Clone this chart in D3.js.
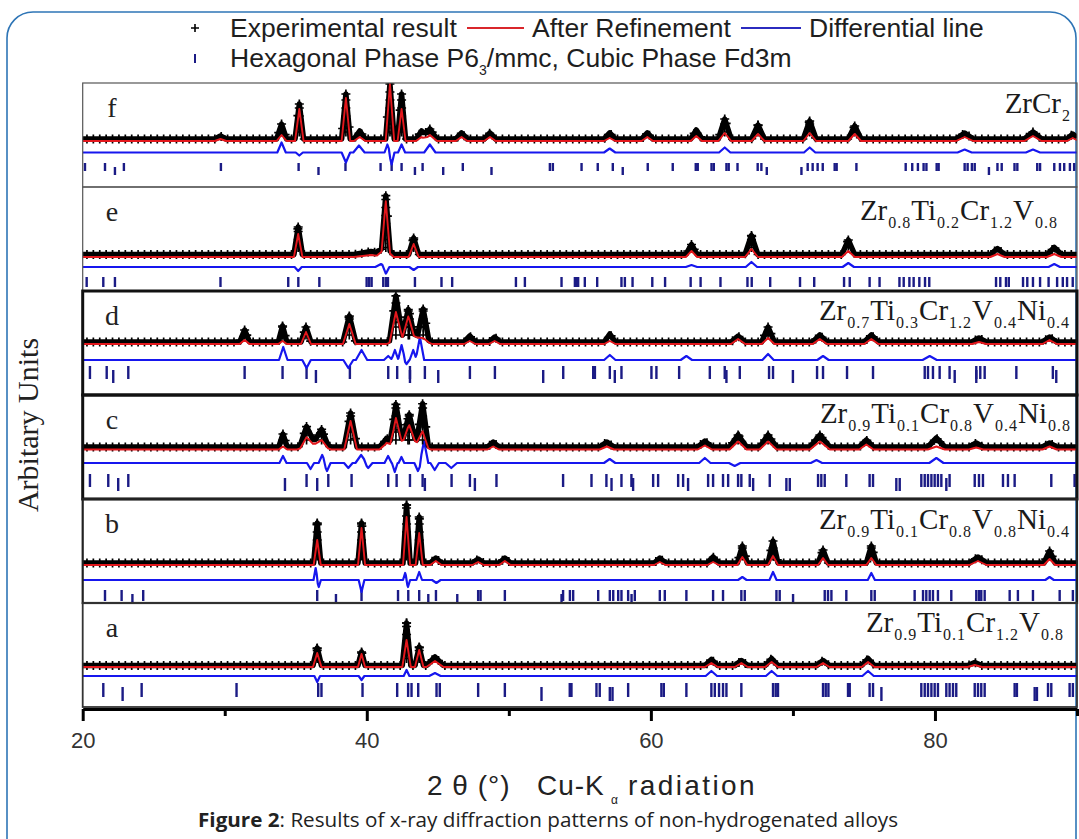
<!DOCTYPE html>
<html><head><meta charset="utf-8">
<script src="https://cdn.jsdelivr.net/npm/d3@7"></script>
<style>body{margin:0;background:#fff}svg{display:block}</style>
</head><body><svg id="c" width="1079" height="839"></svg>
<script>
// ---------------- DATA ----------------
const panelIds = ["f","e","d","c","b","a"];
const xTicks = [20,30,40,50,60,70,80,90];
const xTickLabels = [20,40,60,80];

const formulaF = [["ZrCr","2"]];
const formulaE = [["Zr","0.8"],["Ti","0.2"],["Cr","1.2"],["V","0.8"]];
const formulaD = [["Zr","0.7"],["Ti","0.3"],["Cr","1.2"],["V","0.4"],["Ni","0.4"]];
const formulaC = [["Zr","0.9"],["Ti","0.1"],["Cr","0.8"],["V","0.4"],["Ni","0.8"]];
const formulaB = [["Zr","0.9"],["Ti","0.1"],["Cr","0.8"],["V","0.8"],["Ni","0.4"]];
const formulaA = [["Zr","0.9"],["Ti","0.1"],["Cr","1.2"],["V","0.8"]];

// background level of observed pattern (arb. units)
const backgroundObs = [48, 36.5, 53, 52, 40, 41.5];

// peaks: [2theta, observed height, calculated height, half width]
const peaksF = [[29.7,3,2,0.4],[34.0,15,6,0.35],[35.25,35,32,0.3],[38.53,45,43,0.3],[39.5,8,4,0.4],[41.63,55,57,0.3],[42.45,45,32,0.28],[43.86,8,4,0.4],[44.44,10,6,0.5],[46.67,6,4,0.4],[48.67,6,4,0.4],[57.1,6,3,0.4],[59.75,6,4,0.4],[63.2,9,5,0.4],[65.2,20,8,0.45],[67.54,14,7,0.45],[71.18,18,8,0.45],[74.35,13,7,0.45],[82.09,6,4,0.6],[86.9,7,5,0.6],[89.7,5,3,0.4]];
const peaksE = [[35.17,27.5,23,0.3],[40.3,3,2,1.2],[41.3,8,8,0.6],[41.34,51,48,0.3],[43.3,16.5,13,0.35],[62.86,10,6,0.4],[67.08,19,8,0.45],[73.9,14.5,6,0.45],[84.4,6,3,0.5],[88.4,7,3,0.5]];
const peaksD = [[31.4,12,4,0.35],[34.07,16,3,0.3],[35.72,15,12,0.35],[38.77,26,20,0.45],[43.0,10,10,1.6],[42.05,42,28,0.45],[42.92,23,18,0.4],[43.97,29,2,0.4],[47.25,6,3,0.4],[49.0,5,3,0.4],[57.11,8,3,0.4],[66.14,6,5,0.5],[68.25,15,6,0.45],[71.89,7,5,0.5],[75.52,7,5,0.5],[83.1,4,2,0.5],[88.07,5,4,0.5]];
const peaksC = [[34.1,13,3,0.3],[36.3,8,6,1.2],[35.76,16,9,0.45],[36.82,13,6,0.45],[38.86,34,28.5,0.45],[41.39,8,6,0.5],[42.9,12,12,1.6],[42.05,37,26,0.4],[42.99,21,13,0.4],[43.93,39,14,0.4],[48.9,5,3,0.4],[56.9,5,3,0.5],[63.8,6,4,0.5],[66.14,12,8,0.6],[68.25,12,8,0.6],[71.9,12,8,0.7],[75.17,7,5,0.5],[80.1,9,3,0.6],[82.9,4,2,0.5],[88.07,4,3,0.5]];
const peaksB = [[36.51,40,25,0.25],[39.63,40,37,0.25],[42.8,58,48,0.25],[43.69,46,32,0.25],[44.86,5,4,0.4],[47.84,4,3,0.4],[49.72,5,4,0.4],[60.63,5,3,0.4],[64.38,6,3,0.4],[66.44,17,8,0.35],[68.6,22,9,0.35],[72.12,13,7,0.35],[75.52,17,7,0.35],[83.03,6,4,0.6],[88.07,12,6,0.4]];
const peaksA = [[36.51,17.5,14,0.3],[39.63,13.5,13,0.25],[42.8,42.5,27,0.3],[43.69,18.5,17,0.3],[44.8,8.5,6,0.6],[64.26,6,4,0.45],[66.37,5,4,0.45],[68.5,7,5,0.45],[72.12,5,4,0.45],[75.29,7,5,0.45],[82.8,3,2,0.5]];

// difference curve features: [2theta, amplitude, half width]
const diffF = [[34.0,10,0.3],[35.25,-3,0.25],[38.53,-10,0.3],[39.45,7,0.4],[41.45,8,0.2],[41.75,-12,0.2],[42.45,8,0.25],[44.44,8,0.4],[57.1,4,0.4],[65.2,5,0.4],[71.18,5,0.4],[82.09,3,0.5],[86.9,3,0.5]];
const diffE = [[35.17,-4,0.25],[41.0,3,0.4],[41.34,-7,0.25],[43.3,-3,0.3],[62.86,2,0.4],[67.08,5,0.4],[73.9,4,0.4],[88.4,3,0.4]];
const diffD = [[34.12,13,0.3],[35.76,-8,0.3],[38.7,-8,0.35],[39.63,10,0.4],[41.51,4,0.3],[41.98,10,0.25],[42.45,15,0.25],[42.8,-4,0.2],[43.27,10,0.25],[43.74,23,0.3],[57.11,5,0.4],[62.5,4,0.4],[68.25,6,0.4],[72.12,4,0.4],[79.63,4,0.5]];
const diffC = [[34.1,7,0.25],[36.04,-6,0.25],[36.86,8,0.25],[37.2,-8,0.25],[38.7,-5,0.3],[39.6,8,0.4],[40.1,-5,0.3],[41.5,7,0.25],[41.97,-9,0.2],[42.44,6,0.2],[43.6,-8,0.25],[44.03,22,0.3],[44.78,-7,0.3],[45.95,-5,0.4],[57.1,4,0.4],[63.8,5,0.4],[65.9,-3,0.4],[71.66,3,0.4],[80.1,5,0.5]];
const diffB = [[36.4,12,0.15],[36.62,-7,0.15],[39.63,-12,0.2],[42.7,7,0.15],[42.9,-7,0.15],[43.69,8,0.2],[44.9,-3,0.3],[66.44,3,0.3],[68.6,8,0.25],[75.52,7,0.25],[88.07,3,0.3]];
const diffA = [[36.51,-6,0.2],[39.63,-4,0.2],[42.8,6,0.2],[44.8,3,0.4],[64.26,5,0.4],[68.5,5,0.4],[75.29,5,0.4]];

// Bragg reflection positions (2theta)
const ticksF = [20.16,21.57,22.9,29.73,35.2,38.5,40.97,41.75,42.45,43.93,46.76,52.89,53.1,55.12,56.26,57.32,59.78,61.54,63.16,63.3,64.27,64.43,65.32,65.48,66.1,67.52,67.78,71.04,71.39,71.74,72.1,72.94,73.08,74.47,77.94,78.4,78.8,79.2,79.4,80.12,80.26,82.09,82.3,82.6,82.8,84.4,84.7,85.6,85.8,87.2,87.4,88.4,88.8,89.1,89.5,89.8];
const ticksFLow = [22.27,36.6,43.39,45.38,48.78,58.02,68.16,70.6,83.8];
const ticksE = [20.28,21.45,22.27,29.7,34.47,35.18,36.66,39.99,40.17,40.34,41.16,41.35,41.49,43.39,45.26,46.01,50.5,51.13,53.71,54.65,54.77,54.88,55.35,56.22,57.93,58.17,58.71,60.1,61.0,62.8,63.5,64.9,66.8,67.1,68.4,70.5,71.5,73.6,74.0,75.4,76.1,77.5,77.8,78.2,78.5,78.9,79.3,79.6,84.3,84.6,85.0,85.2,86.2,86.5,86.9,87.4,88.0,88.6,89.0,89.3,89.7];
const ticksELow = [];
const ticksD = [20.51,21.69,23.21,31.4,34.07,35.76,38.81,41.51,42.14,43.04,44.09,47.26,49.02,53.83,55.94,56.06,57.11,57.93,60.04,60.39,61.99,64.15,65.2,66.26,68.32,68.6,71.7,72.12,73.81,75.64,79.28,79.51,79.86,80.33,81.03,82.91,83.19,83.5,85.73,88.3];
const ticksDLow = [22.15,36.42,43.04,45.03,52.42,57.46,65.32,70.0,81.39,82.91,88.54];
const ticksC = [20.51,21.8,23.21,35.76,37.29,38.93,41.51,42.1,43.04,43.93,45.97,47.26,49.13,53.82,55.82,56.87,57.93,58.63,60.16,60.51,61.92,62.27,64.03,64.38,65.08,65.44,66.14,66.37,66.96,68.37,71.77,72.0,72.24,73.76,75.4,75.64,79.04,79.28,79.51,79.75,79.98,80.21,80.45,81.03,82.8,83.1,83.38,84.79,85.14,85.61,88.19,89.83];
const ticksCLow = [22.5,34.24,36.51,44.09,47.61,57.23,58.75,62.62,67.2,69.54,69.78,77.28,77.52,80.8];
const ticksB = [21.57,22.74,24.26,36.51,39.63,42.2,42.92,43.69,44.87,47.84,48.01,49.72,53.82,54.3,54.53,56.29,57.11,57.35,57.7,57.93,58.4,58.87,60.63,60.98,62.5,64.38,65.08,66.37,66.61,68.84,69.07,72.24,72.47,72.71,73.76,75.52,75.76,78.57,79.16,79.39,79.63,79.86,80.21,81.15,82.91,83.1,83.26,83.5,85.26,85.84,86.9,88.78,89.71];
const ticksBLow = [23.5,37.83,44.33,46.37,53.71,58.64,70.01];
const ticksA = [21.45,24.15,30.83,36.58,36.81,39.7,42.14,42.91,43.15,43.62,44.91,45.14,47.84,49.72,54.29,54.41,56.17,56.4,58.4,60.74,60.91,62.5,64.26,64.5,64.8,65.08,65.32,66.37,68.6,68.79,68.95,72.12,72.31,72.5,73.88,74.0,75.4,75.64,79.04,79.28,79.51,79.75,79.98,80.21,80.8,81.03,81.27,81.5,82.8,83.03,83.26,83.5,85.61,85.77,87.96,88.19,89.48,89.71];
const ticksALow = [22.81,52.3,57.11,57.3,76.23,87.02,87.18];

// ---------------- LAYOUT / STYLE ----------------
const layout = {
  f:{calcOff:-2,   diffBase:34.5, tickTop:24, tickLen:8,  bw:1.2, bc:"#555", fx:1071, fy:30},
  e:{calcOff:-2.5, diffBase:24,   tickTop:14, tickLen:10, bw:1.2, bc:"#555", fx:1058, fy:33},
  d:{calcOff:-2,   diffBase:35,   tickTop:29, tickLen:13, bw:3,   bc:"#111", fx:1070, fy:29},
  c:{calcOff:-2.5, diffBase:36,   tickTop:25, tickLen:13, bw:3,   bc:"#111", fx:1071, fy:28},
  b:{calcOff:-2,   diffBase:23,   tickTop:13, tickLen:11, bw:2.2, bc:"#222", fx:1070, fy:30},
  a:{calcOff:-1.5, diffBase:31,   tickTop:24, tickLen:14, bw:1.8, bc:"#333", fx:1064, fy:29}
};
const formulas = [formulaF,formulaE,formulaD,formulaC,formulaB,formulaA];
const peakSets = [peaksF,peaksE,peaksD,peaksC,peaksB,peaksA];
const diffSets = [diffF,diffE,diffD,diffC,diffB,diffA];
const tickSets = [ticksF,ticksE,ticksD,ticksC,ticksB,ticksA];
const lowSets = [ticksFLow,ticksELow,ticksDLow,ticksCLow,ticksBLow,ticksALow];
const serif = "'Liberation Serif','Times New Roman',serif";
const sans = "'Liberation Sans',Arial,sans-serif";

const svg = d3.select("#c");
const x = d3.scaleLinear().domain([20,90]).range([82.7,1077]);
const band = d3.scaleBand().domain(panelIds).range([83,707]);

// outer frame
svg.append("rect").attr("x",7).attr("y",12).attr("width",1069).attr("height",900)
  .attr("rx",26).attr("fill","none").attr("stroke","#2e75b6").attr("stroke-width",1.6);

function valueAt(items, hIdx, wIdx, base, t){
  let s = base;
  for(const p of items){ const d=Math.abs(t-p[0]); if(d<p[wIdx]) s += p[hIdx]*(1-d/p[wIdx]); }
  return s;
}
function profile(items, hIdx, wIdx, base){
  const ts = new Set([20,90]);
  items.forEach(p=>{[p[0]-p[wIdx],p[0],p[0]+p[wIdx]].forEach(t=>{ if(t>=20&&t<=90) ts.add(+t.toFixed(4)); });});
  return [...ts].sort((a,b)=>a-b).map(t=>[t, valueAt(items,hIdx,wIdx,base,t)]);
}
const plus = "M-4.5,0H4.5M0,-4.5V4.5";

panelIds.forEach((id,i)=>{
  const L = layout[id];
  const top = band(id), bot = top + band.bandwidth();
  const y = d3.scaleLinear().domain([0,104]).range([bot, top]);
  const line = d3.line().x(d=>x(d[0])).y(d=>y(d[1]));
  const peaks = peakSets[i], bg = backgroundObs[i];
  const cid = "clip"+id;
  svg.append("clipPath").attr("id",cid).append("rect")
    .attr("x",x(20)).attr("y",top).attr("width",x(90)-x(20)).attr("height",band.bandwidth());
  const g = svg.append("g").attr("clip-path",`url(#${cid})`);

  // reflection ticks
  g.selectAll(".tk").data(tickSets[i]).join("line")
    .attr("x1",d=>x(d)).attr("x2",d=>x(d))
    .attr("y1",y(L.tickTop)).attr("y2",y(L.tickTop-L.tickLen))
    .attr("stroke","#1b1b85").attr("stroke-width",2.4);
  g.selectAll(".tl").data(lowSets[i]).join("line")
    .attr("x1",d=>x(d)).attr("x2",d=>x(d))
    .attr("y1",y(L.tickTop-4)).attr("y2",y(L.tickTop-4-L.tickLen))
    .attr("stroke","#1b1b85").attr("stroke-width",2.4);

  // difference curve
  g.append("path").attr("d",line(profile(diffSets[i],1,2,L.diffBase)))
    .attr("fill","none").attr("stroke","#1616ee").attr("stroke-width",2.2).attr("stroke-linejoin","round");

  // observed band
  g.append("path").attr("d",line(profile(peaks,1,3,bg)))
    .attr("fill","none").attr("stroke","#000").attr("stroke-width",5.5).attr("stroke-linejoin","round");
  const marks = d3.range(20.3,89.8,0.45).map(t=>[t,valueAt(peaks,1,3,bg,t)]);
  peaks.filter(p=>p[1]>=10).forEach(p=>{
    const topv = valueAt(peaks,1,3,bg,p[0]);
    d3.range(bg+7, topv, 8).forEach(v=>marks.push([p[0],v]));
    marks.push([p[0],topv]);
  });
  g.selectAll(".pm").data(marks).join("path")
    .attr("transform",d=>`translate(${x(d[0])},${y(d[1])})`)
    .attr("d",plus).attr("stroke","#000").attr("stroke-width",1.7).attr("fill","none");

  // calculated curve
  g.append("path").attr("d",line(profile(peaks,2,3,bg+L.calcOff)))
    .attr("fill","none").attr("stroke","#e3171c").attr("stroke-width",1.9).attr("stroke-linejoin","round");

  // frame
  svg.append("rect").attr("x",x(20)).attr("y",top).attr("width",x(90)-x(20)).attr("height",band.bandwidth())
    .attr("fill","none").attr("stroke",L.bc).attr("stroke-width",L.bw);

  // panel letter
  svg.append("text").attr("x",112).attr("y",top+34).attr("text-anchor","middle")
    .attr("font-family",serif).attr("font-size",28).attr("fill","#222").text(id);

  // formula
  const ft = svg.append("text").attr("x",L.fx).attr("y",top+L.fy).attr("text-anchor","end")
    .attr("font-family",serif).attr("fill","#1a1a1a");
  formulas[i].forEach((pr,k)=>{
    ft.append("tspan").attr("font-family",serif).attr("font-size",29).attr("dy",k===0?0:-8).text(pr[0]);
    ft.append("tspan").attr("font-family",serif).attr("font-size",16).attr("dy",8).attr("dx",1).attr("letter-spacing",1).text(pr[1]);
  });
});

// x axis
const axis = d3.axisBottom(x).tickValues(xTicks).tickSize(12).tickSizeOuter(0).tickPadding(11)
  .tickFormat(d=>xTickLabels.includes(d)?d:"");
const ga = svg.append("g").attr("transform","translate(0,709)").call(axis);
ga.select(".domain").attr("stroke","#000").attr("stroke-width",3);
ga.selectAll(".tick line").attr("stroke","#000").attr("stroke-width",3)
  .attr("y2",d=>xTickLabels.includes(d)?12:7);
ga.selectAll(".tick text").attr("font-family",sans).attr("font-size",22).attr("fill","#333");

// axis title
svg.append("text").attr("x",427).attr("y",795).attr("font-family",sans).attr("font-size",28).attr("fill","#222").attr("letter-spacing",1).text("2 θ (°)");
svg.append("text").attr("x",537).attr("y",795).attr("font-family",sans).attr("font-size",28).attr("fill","#222").attr("letter-spacing",1).text("Cu-K");
svg.append("text").attr("x",611).attr("y",804).attr("font-family",sans).attr("font-size",12).attr("fill","#222").text("α");
svg.append("text").attr("x",628).attr("y",795).attr("font-family",sans).attr("font-size",28).attr("fill","#222").attr("letter-spacing",2.4).text("radiation");

// y title
svg.append("text").attr("transform","translate(38,425) rotate(-90)").attr("text-anchor","middle")
  .attr("font-family",serif).attr("font-size",30).attr("fill","#222").text("Arbitary Units");

// caption
const cap = svg.append("text").attr("x",198).attr("y",827).attr("font-family","'Open Sans',sans-serif")
  .attr("font-size",19.5).attr("fill","#222").attr("textLength",700).attr("lengthAdjust","spacingAndGlyphs");
cap.append("tspan").attr("font-weight","bold").text("Figure 2");
cap.append("tspan").text(": Results of x-ray diffraction patterns of non-hydrogenated alloys");

// legend
const lg = svg.append("g").attr("font-family",sans).attr("font-size",26.5).attr("fill","#1e1e1e");
lg.append("path").attr("transform","translate(195,28)").attr("d","M-4,0H4M0,-4V4").attr("stroke","#000").attr("stroke-width",1.6);
lg.append("text").attr("x",230).attr("y",37).text("Experimental result");
lg.append("line").attr("x1",467).attr("x2",524).attr("y1",28).attr("y2",28).attr("stroke","#d9262b").attr("stroke-width",2);
lg.append("text").attr("x",532).attr("y",37).text("After Refinement");
lg.append("line").attr("x1",741).attr("x2",801).attr("y1",28).attr("y2",28).attr("stroke","#2b2bbf").attr("stroke-width",2);
lg.append("text").attr("x",809).attr("y",37).text("Differential line");
lg.append("line").attr("x1",195).attr("x2",195).attr("y1",54).attr("y2",63).attr("stroke","#1b1b85").attr("stroke-width",2);
const l2 = lg.append("text").attr("x",230).attr("y",67);
l2.append("tspan").text("Hexagonal Phase P6");
l2.append("tspan").attr("font-size",14).attr("dy",8).text("3");
l2.append("tspan").attr("dy",-8).text("/mmc, Cubic Phase Fd3m");
</script></body></html>
